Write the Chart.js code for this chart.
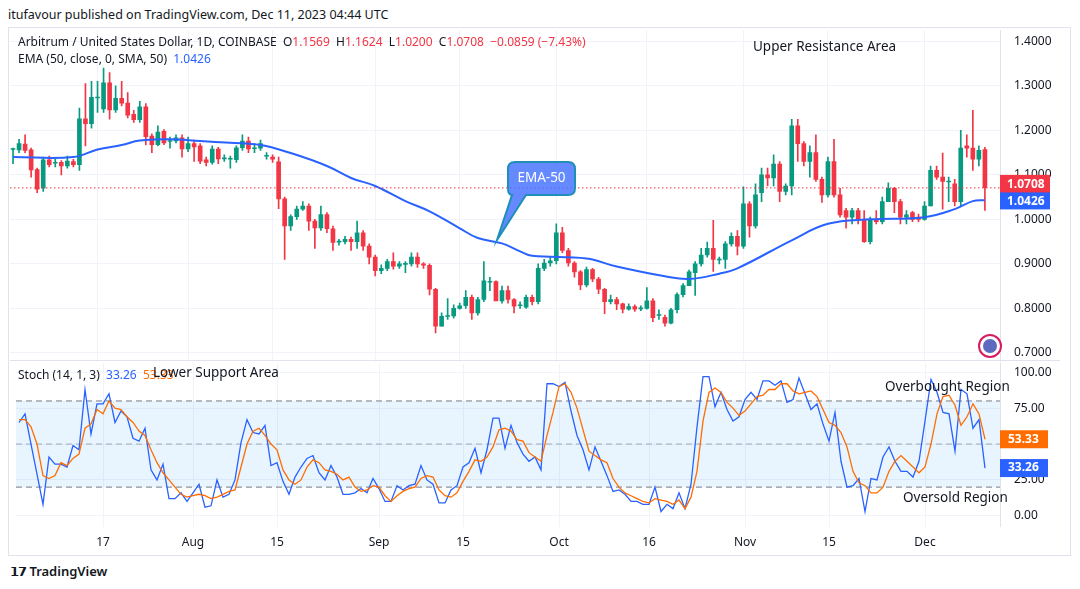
<!DOCTYPE html>
<html><head><meta charset="utf-8">
<script src="https://cdn.jsdelivr.net/npm/chart.js@4.4.0/dist/chart.umd.min.js"></script>
<style>
body{margin:0;width:1080px;height:589px;background:#fff;font-family:"Noto Sans",Roboto,sans-serif;color:#131722;position:relative;overflow:hidden}
.t{position:absolute;white-space:nowrap;font-size:12px}
#c1{position:absolute;left:10px;top:9px}
#c2{position:absolute;left:10px;top:342px}
.frame{position:absolute;left:8px;top:27px;width:1063px;height:529px;border:1px solid #e0e3eb;box-sizing:border-box}
</style></head><body>
<div class="t" style="left:8px;top:6px;font-size:12.5px">itufavour published on TradingView.com, Dec 11, 2023 04:44 UTC</div>
<div class="frame"></div>
<canvas id="c1" width="1050" height="374"></canvas>
<canvas id="c2" width="1050" height="217"></canvas>
<div class="t" style="left:18px;top:33px">Arbitrum / United States Dollar, 1D, COINBASE&nbsp; O<span style="color:#F23645">1.1569</span>&nbsp; H<span style="color:#F23645">1.1624</span>&nbsp; L<span style="color:#F23645">1.0200</span>&nbsp; C<span style="color:#F23645">1.0708</span>&nbsp; <span style="color:#F23645">−0.0859 (−7.43%)</span></div>
<div class="t" style="left:18px;top:50px">EMA (50, close, 0, SMA, 50)&nbsp; <span style="color:#2962FF">1.0426</span></div>
<div class="t" style="left:753px;top:37px;font-size:13.5px">Upper Resistance Area</div>
<div class="t" style="left:18px;top:366px">Stoch (14, 1, 3)&nbsp; <span style="color:#2962FF">33.26</span>&nbsp; <span style="color:#FF6D00">53.33</span></div>
<div class="t" style="left:153px;top:363px;font-size:13.5px">Lower Support Area</div>
<div class="t" style="left:885px;top:377px;font-size:13.5px">Overbought Region</div>
<div class="t" style="left:903px;top:488px;font-size:13.5px">Oversold Region</div>
<div class="t" style="left:10px;top:562px;font-size:13px;font-weight:600"><span style="font-weight:900;letter-spacing:-1px">𝟭𝟳</span> TradingView</div>
<script>
// ---- data ----
const startDate = '2023-07-03';
const opens = [1.158,1.156,1.169,1.156,1.112,1.070,1.134,1.127,1.128,1.120,1.130,1.123,1.226,1.215,1.274,1.248,1.307,1.246,1.272,1.261,1.236,1.224,1.253,1.187,1.168,1.198,1.176,1.176,1.183,1.158,1.170,1.165,1.134,1.128,1.158,1.137,1.136,1.134,1.161,1.176,1.160,1.160,
1.143,1.140,1.129,1.046,0.985,1.006,1.023,1.030,0.996,0.981,1.011,0.979,0.950,0.950,0.955,0.950,0.970,0.940,0.915,0.885,0.890,0.905,0.895,0.900,0.900,0.915,0.900,0.897,0.843,0.760,0.783,0.783,0.800,0.806,0.825,0.790,0.820,0.860,0.860,0.817,0.840,0.820,
0.807,0.803,0.825,0.815,0.890,0.902,0.907,0.970,0.930,0.902,0.882,0.853,0.887,0.866,0.843,0.815,0.820,0.810,0.798,0.804,0.800,0.800,0.817,0.785,0.780,0.767,0.797,0.831,0.851,0.880,0.900,0.920,0.935,0.910,0.910,0.945,0.962,0.940,1.035,0.985,
1.060,1.100,1.093,1.124,1.063,1.075,1.210,1.170,1.130,1.150,1.090,1.055,1.130,1.055,1.020,1.005,1.020,1.000,0.950,1.000,0.995,1.040,1.070,1.040,1.005,1.015,1.005,1.000,1.030,1.110,1.095,1.085,1.080,1.040,1.165,1.160,1.135,1.157];
const closes = [1.158,1.170,1.155,1.111,1.068,1.134,1.123,1.127,1.120,1.131,1.123,1.226,1.215,1.274,1.274,1.307,1.246,1.272,1.261,1.234,1.224,1.253,1.186,1.168,1.196,1.172,1.176,1.183,1.158,1.170,1.163,1.131,1.128,1.158,1.136,1.137,1.136,1.161,1.176,1.158,1.160,1.170,
1.143,1.135,1.046,0.985,1.006,1.023,1.030,0.996,0.981,1.011,0.979,0.948,0.950,0.955,0.950,0.970,0.940,0.915,0.885,0.890,0.905,0.895,0.900,0.900,0.915,0.900,0.897,0.843,0.760,0.782,0.783,0.800,0.806,0.825,0.790,0.820,0.862,0.860,0.817,0.840,0.820,0.805,
0.807,0.825,0.815,0.890,0.902,0.907,0.970,0.930,0.902,0.882,0.853,0.887,0.866,0.843,0.815,0.820,0.810,0.798,0.804,0.798,0.800,0.817,0.779,0.785,0.767,0.797,0.831,0.851,0.882,0.900,0.920,0.935,0.910,0.910,0.945,0.962,0.940,1.035,0.985,1.055,
1.100,1.093,1.124,1.063,1.075,1.210,1.170,1.130,1.150,1.090,1.055,1.130,1.055,1.010,1.005,1.020,1.000,0.950,1.000,0.995,1.040,1.070,1.040,1.005,1.010,1.000,1.000,1.030,1.110,1.095,1.085,1.085,1.040,1.160,1.160,1.135,1.155,1.071];
const highs = [1.160,1.180,1.190,1.160,1.115,1.140,1.142,1.135,1.132,1.142,1.135,1.250,1.305,1.310,1.310,1.340,1.330,1.300,1.310,1.285,1.245,1.265,1.260,1.192,1.210,1.202,1.185,1.190,1.190,1.185,1.178,1.170,1.140,1.165,1.162,1.145,1.142,1.165,1.190,1.185,1.170,1.178,
1.150,1.145,1.140,1.050,1.010,1.030,1.040,1.035,1.000,1.030,1.015,0.985,0.955,0.962,0.960,0.996,0.975,0.945,0.920,0.898,0.910,0.925,0.905,0.905,0.925,0.925,0.903,0.900,0.845,0.790,0.822,0.808,0.812,0.840,0.830,0.825,0.905,0.870,0.862,0.850,0.850,0.822,
0.815,0.830,0.830,0.900,0.910,0.915,0.990,0.982,0.935,0.905,0.885,0.893,0.890,0.870,0.845,0.830,0.825,0.812,0.810,0.808,0.806,0.847,0.822,0.797,0.785,0.800,0.835,0.856,0.886,0.905,0.935,0.949,0.998,0.915,0.950,0.970,0.975,1.073,1.040,1.080,
1.115,1.115,1.145,1.130,1.080,1.225,1.225,1.175,1.165,1.190,1.095,1.140,1.180,1.070,1.025,1.025,1.025,1.020,1.005,1.020,1.050,1.082,1.072,1.045,1.020,1.018,1.012,1.040,1.120,1.120,1.149,1.095,1.090,1.200,1.190,1.245,1.165,1.162];
const lows = [1.125,1.150,1.150,1.095,1.060,1.063,1.118,1.118,1.100,1.115,1.118,1.110,1.165,1.205,1.240,1.240,1.225,1.240,1.255,1.228,1.218,1.218,1.167,1.150,1.165,1.168,1.160,1.172,1.140,1.152,1.130,1.125,1.120,1.124,1.125,1.130,1.115,1.128,1.155,1.150,1.150,1.155,
1.135,1.128,1.024,0.910,0.975,1.000,1.020,0.975,0.935,0.975,0.970,0.930,0.942,0.945,0.930,0.935,0.930,0.900,0.873,0.878,0.885,0.888,0.890,0.880,0.895,0.892,0.890,0.830,0.745,0.760,0.775,0.778,0.798,0.800,0.775,0.785,0.815,0.840,0.830,0.812,0.812,0.790,
0.800,0.800,0.808,0.810,0.885,0.895,0.900,0.925,0.895,0.870,0.842,0.848,0.860,0.833,0.788,0.810,0.797,0.790,0.796,0.793,0.795,0.798,0.770,0.775,0.760,0.765,0.790,0.826,0.855,0.829,0.895,0.915,0.883,0.900,0.890,0.940,0.920,0.935,0.960,0.980,
1.040,1.075,1.075,1.040,1.055,1.055,1.130,1.120,1.095,1.085,1.038,1.050,1.050,1.005,0.980,0.990,0.990,0.948,0.945,0.990,0.990,1.040,1.015,0.990,0.990,0.995,0.995,0.998,1.030,1.090,1.023,1.040,1.030,1.030,1.140,1.110,1.120,1.020];
const emaIdx = [0,10,14,18,21,26,31,36,41,46,52,56,60,65,69,74,77,81,84,86,95,100,108,112,117,120,129,135,142,151,156,159,161];
const emaVal = [1.140,1.140,1.157,1.167,1.177,1.180,1.176,1.172,1.167,1.149,1.120,1.093,1.075,1.041,1.018,0.980,0.958,0.946,0.928,0.918,0.912,0.894,0.872,0.866,0.878,0.890,0.953,0.990,1.000,1.005,1.023,1.041,1.043];
const stochK = [65,71,50,29,8,41,36,36,34,49,46,88,57,78,78,85,65,73,69,54,52,61,32,25,36,12,12,16,10,16,22,6,7,25,13,15,25,51,67,58,57,63,35,37,24,15,27,34,40,42,30,25,35,27,15,
15,16,19,16,26,19,10,10,21,18,21,22,35,25,22,9,9,18,21,34,37,47,30,46,68,68,47,63,51,43,38,41,32,92,92,90,93,73,56,46,32,48,38,28,17,18,15,10,10,8,8,20,3,8,5,16,
5,22,62,97,97,76,86,74,66,69,81,86,81,94,94,91,94,79,81,96,85,74,78,64,52,72,38,20,21,26,3,26,25,41,48,38,31,31,27,38,66,95,86,72,71,45,88,85,61,67,33.26];
const stochD = [67,67,62,50,28,26,28,37,35,40,43,61,64,74,71,80,75,74,69,65,59,56,46,37,30,25,20,15,13,14,15,14,12,13,15,17,18,34,50,59,61,56,50,46,32,25,22,25,34,39,37,32,31,29,25,
27,20,17,18,21,20,14,10,14,17,19,20,26,28,27,18,14,13,16,24,31,39,38,41,48,60,61,59,53,52,44,41,38,56,72,90,92,86,75,60,45,42,39,37,26,20,16,14,12,10,9,12,11,10,8,11,
5,13,31,66,86,89,86,79,75,70,73,78,83,84,88,88,92,92,87,85,86,87,83,74,65,63,58,48,31,23,21,16,16,20,31,38,42,38,34,30,34,50,71,83,84,77,63,69,78,71,53.33];
const tickDates = ['2023-07-17','2023-08-01','2023-08-15','2023-09-01','2023-09-15','2023-10-01','2023-10-16','2023-11-01','2023-11-15','2023-12-01'];
const tickTexts = ['17','Aug','15','Sep','15','Oct','16','Nov','15','Dec'];
const priceTicks = [0.7,0.8,0.9,1.0,1.1,1.2,1.3,1.4];
const stochTicks = [0,25,50,75,100];
const lastPrice = 1.0708, emaLast = 1.0426;

// ---- build ----
const N = closes.length + 2;
const labels = [];
const d0 = new Date(startDate + 'T00:00:00Z');
for (let i = 0; i < N; i++) { const d = new Date(d0.getTime() + i*86400000); labels.push(d.toISOString().slice(0,10)); }
const GREEN = '#089981', RED = '#F23645';
const col = closes.map((c,i)=> c >= opens[i] ? GREEN : RED);
const bodies = closes.map((c,i)=> { let a=opens[i], b=c; if (Math.abs(a-b)<0.002) { a-=0.001; b+=0.001; } return [a,b]; });
const wicks = closes.map((c,i)=> [lows[i], highs[i]]);
const emaData = emaIdx.map((k,j)=>({x: labels[k], y: emaVal[j]}));
const FONT = {family:'"Noto Sans", Roboto, sans-serif', size:12};
const tickText = (lbl) => { const k = tickDates.indexOf(lbl); return k >= 0 ? tickTexts[k] : ''; };
const fixW = (s)=>{ s.width = 60; };

const xCommon = (show) => ({
  type:'category', offset:true,
  grid:{ color:(ctx)=> (ctx.tick && tickDates.includes(labels[ctx.tick.value])) ? '#f0f3fa' : 'rgba(0,0,0,0)', drawTicks:false, offset:false },
  border:{display:false},
  ticks:{ display:show, autoSkip:false, maxRotation:0, color:'#131722', font:FONT, padding:9,
    callback:(v)=> tickText(labels[v]) }
});

const pricePlugin = {
  id:'pp',
  afterDatasetsDraw(ch){
    const {ctx, chartArea:a, scales:{y}} = ch;
    ctx.save();
    const yp = y.getPixelForValue(lastPrice);
    ctx.strokeStyle = RED; ctx.setLineDash([1.5,2.5]); ctx.lineWidth = 1;
    ctx.beginPath(); ctx.moveTo(a.left, yp); ctx.lineTo(a.right, yp); ctx.stroke();
    ctx.setLineDash([]);
    // EMA-50 callout (page coords shifted to canvas)
    const ox = -10, oy = -9;
    ctx.beginPath();
    const bx=508+ox, by=162+oy, bw=67, bh=33, r=7;
    ctx.moveTo(bx+r,by); ctx.lineTo(bx+bw-r,by); ctx.quadraticCurveTo(bx+bw,by,bx+bw,by+r);
    ctx.lineTo(bx+bw,by+bh-r); ctx.quadraticCurveTo(bx+bw,by+bh,bx+bw-r,by+bh);
    ctx.lineTo(bx+18,by+bh); ctx.lineTo(497+ox,240+oy); ctx.lineTo(bx+4,by+bh);
    ctx.quadraticCurveTo(bx,by+bh,bx,by+bh-r); ctx.lineTo(bx,by+r); ctx.quadraticCurveTo(bx,by,bx+r,by);
    ctx.closePath();
    ctx.fillStyle = 'rgba(74,116,255,0.85)'; ctx.fill();
    ctx.strokeStyle = '#1f8fb8'; ctx.lineWidth = 2; ctx.stroke();
    ctx.fillStyle = '#fff'; ctx.font = '13.5px "Noto Sans", sans-serif'; ctx.textAlign='center'; ctx.textBaseline='middle';
    ctx.fillText('EMA-50', bx+bw/2, by+bh/2);
    ctx.textAlign='left';
    ctx.fillStyle = RED; ctx.fillRect(a.right, yp-13, 50, 34);
    ctx.fillStyle = '#fff'; ctx.font = 'bold 12px "Noto Sans", sans-serif';
    ctx.fillText(lastPrice.toFixed(4), a.right+7, yp-3);
    ctx.font = '12px "Noto Sans", sans-serif';
    ctx.fillText('19:15:08', a.right+4, yp+12);
    const ye = y.getPixelForValue(emaLast);
    ctx.fillStyle = '#2962FF'; ctx.fillRect(a.right, ye-8, 50, 17);
    ctx.fillStyle = '#fff'; ctx.font = 'bold 12px "Noto Sans", sans-serif';
    ctx.fillText(emaLast.toFixed(4), a.right+7, ye+1);
    // small logo circle
    ctx.beginPath(); ctx.arc(980, 337, 11, 0, Math.PI*2); ctx.strokeStyle='#d81b60'; ctx.lineWidth=2; ctx.stroke();
    ctx.fillStyle='#5c6bc0'; ctx.beginPath(); ctx.arc(980,337,7,0,Math.PI*2); ctx.fill();
    ctx.restore();
  }
};

new Chart(document.getElementById('c1'), {
  data:{ labels, datasets:[
    {type:'bar', data:wicks, backgroundColor:col, barThickness:1, grouped:false, order:3},
    {type:'bar', data:bodies, backgroundColor:col, barThickness:4, grouped:false, order:2},
    {type:'line', data:emaData, borderColor:'#2962FF', borderWidth:2, pointRadius:0, tension:0.4, order:1}
  ]},
  options:{ responsive:false, animation:false, devicePixelRatio:1,
    layout:{padding:0},
    plugins:{legend:{display:false}, tooltip:{enabled:false}},
    scales:{
      x: xCommon(false),
      y:{ position:'right', min:0.68, max:1.425, afterFit:fixW,
        afterBuildTicks:(s)=>{ s.ticks = priceTicks.map(v=>({value:v})); },
        grid:{color:'#f0f3fa', drawTicks:false}, border:{color:'#e0e3eb'},
        ticks:{ color:'#131722', font:FONT, padding:14, callback:(v)=> Number(v).toFixed(4) } }
    }
  },
  plugins:[pricePlugin]
});

const stochPlugin = {
  id:'sp',
  beforeDatasetsDraw(ch){
    const {ctx, chartArea:a, scales:{y}} = ch;
    ctx.save();
    const y80 = y.getPixelForValue(80), y20 = y.getPixelForValue(20), y50 = y.getPixelForValue(50);
    ctx.fillStyle = 'rgba(33,150,243,0.1)'; ctx.fillRect(a.left, y80, a.width, y20-y80);
    ctx.strokeStyle = '#787b86'; ctx.lineWidth = 1; ctx.setLineDash([6,4]);
    [y80,y20].forEach(v=>{ ctx.beginPath(); ctx.moveTo(a.left,v); ctx.lineTo(a.right,v); ctx.stroke(); });
    ctx.strokeStyle = 'rgba(120,123,134,0.6)';
    ctx.beginPath(); ctx.moveTo(a.left,y50); ctx.lineTo(a.right,y50); ctx.stroke();
    ctx.restore();
  },
  afterDatasetsDraw(ch){
    const {ctx, chartArea:a, scales:{y}} = ch;
    ctx.save();
    ctx.font='bold 12px "Noto Sans", sans-serif'; ctx.textBaseline='middle';
    const yd = y.getPixelForValue(stochD[stochD.length-1]);
    ctx.fillStyle='#FF6D00'; ctx.fillRect(a.right, yd-9, 48, 18);
    ctx.fillStyle='#fff'; ctx.fillText('53.33', a.right+8, yd);
    const yk = y.getPixelForValue(stochK[stochK.length-1]);
    ctx.fillStyle='#2962FF'; ctx.fillRect(a.right, yk-9, 48, 18);
    ctx.fillStyle='#fff'; ctx.fillText('33.26', a.right+8, yk);
    ctx.strokeStyle='#e0e3eb'; ctx.lineWidth=1; ctx.beginPath(); ctx.moveTo(0,18.5); ctx.lineTo(1050,18.5); ctx.stroke();
    ctx.restore();
  }
};

new Chart(document.getElementById('c2'), {
  data:{ labels, datasets:[
    {type:'line', data:stochD, borderColor:'#FF6D00', borderWidth:1.3, pointRadius:0, tension:0},
    {type:'line', data:stochK, borderColor:'#2962FF', borderWidth:1.3, pointRadius:0, tension:0}
  ]},
  options:{ responsive:false, animation:false, devicePixelRatio:1,
    layout:{padding:{top:2}},
    plugins:{legend:{display:false}, tooltip:{enabled:false}},
    scales:{
      x: xCommon(true),
      y:{ position:'right', min:-7.5, max:106.3, afterFit:fixW,
        afterBuildTicks:(s)=>{ s.ticks = stochTicks.map(v=>({value:v})); },
        grid:{color:'#f0f3fa', drawTicks:false}, border:{color:'#e0e3eb'},
        ticks:{ color:'#131722', font:FONT, padding:14, callback:(v)=> Number(v).toFixed(2) } }
    }
  },
  plugins:[stochPlugin]
});
</script>
</body></html>
